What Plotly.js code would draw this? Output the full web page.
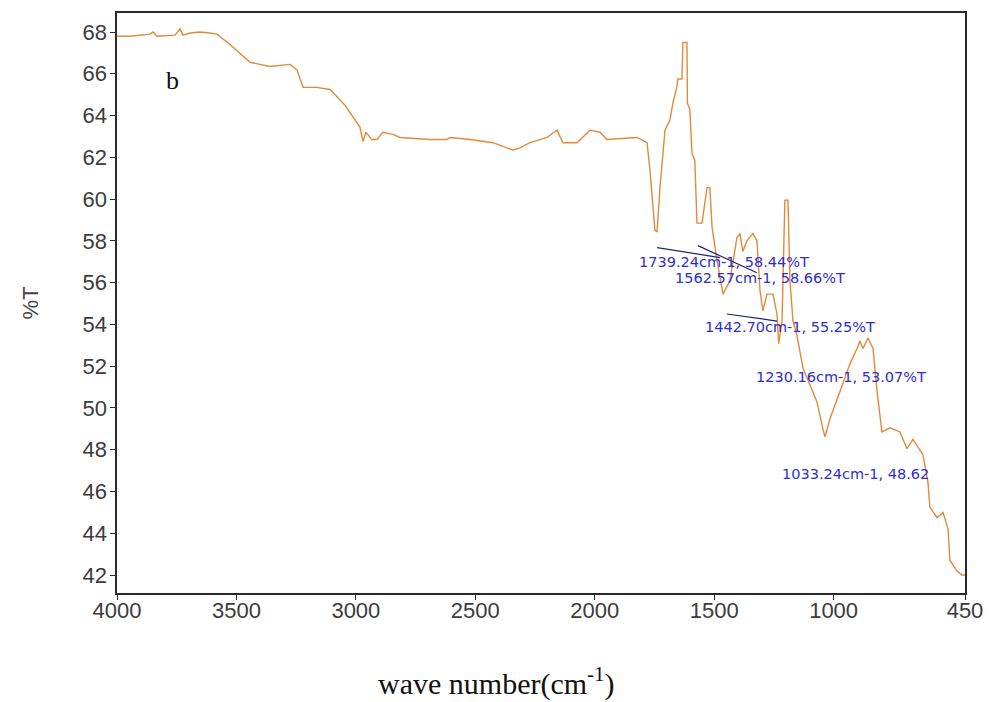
<!DOCTYPE html>
<html>
<head>
<meta charset="utf-8">
<script src="https://cdn.plot.ly/plotly-3.0.1.min.js"></script>
<style>html,body{margin:0;padding:0;background:#fff;}#chart{width:989px;height:702px;}</style>
</head>
<body>
<div id="chart"></div>
<script>
// Wavenumber (cm-1) and transmittance (%T)
const wavenumber = [4000,3946,3862,3849,3833,3757,3736,3724,3694,3653,3611,3581,3527,3443,3360,3276,3247,3221,3163,3108,3046,2983,2970,2958,2933,2912,2887,2845,2815,2690,2619,2606,2522,2426,2342,2313,2271,2200,2158,2133,2074,2020,1978,1949,1823,1781,1769,1756,1748,1739,1727,1706,1685,1673,1656,1652,1635,1631,1614,1612,1602,1593,1581,1572,1551,1530,1518,1509,1488,1463,1434,1405,1392,1380,1363,1338,1321,1308,1296,1279,1254,1237,1230,1216,1204,1191,1183,1170,1154,1128,1070,1045,1036,1028,1015,973,932,902,890,877,856,835,819,798,764,722,693,668,626,605,597,567,542,521,513,484,463,450];
const transmittance = [67.8,67.8,67.9,68.0,67.8,67.85,68.15,67.85,67.95,68.0,67.95,67.9,67.4,66.55,66.35,66.45,66.2,65.35,65.35,65.25,64.5,63.45,62.75,63.2,62.85,62.85,63.2,63.1,62.95,62.85,62.85,62.95,62.85,62.7,62.35,62.45,62.7,62.95,63.3,62.7,62.7,63.3,63.2,62.85,62.95,62.7,61.4,59.3,58.5,58.44,60.55,63.3,63.8,64.6,65.4,65.75,65.75,67.5,67.5,64.6,64.3,62.2,61.85,58.85,58.85,60.55,60.55,58.66,57.05,55.45,56.1,58.15,58.35,57.5,58.0,58.35,58.0,55.6,54.65,55.45,55.45,54.5,53.07,54.15,59.95,59.95,56.1,54.15,53.5,51.9,50.3,49.0,48.62,48.95,49.5,50.8,52.1,52.85,53.2,52.85,53.35,52.85,50.9,48.85,49.05,48.85,48.05,48.5,47.75,46.45,45.25,44.75,45.0,44.2,42.7,42.2,42.0,42.0];

const xTickVals = [4000,3500,3000,2500,2000,1500,1000,450];
const xTickText = ['4000','3500','3000','2500','2000','1500','1000','450'];
const yTickVals = [42,44,46,48,50,52,54,56,58,60,62,64,66,68];

// Peak labels
const peakLabels = ['1739.24cm-1, 58.44%T','1562.57cm-1, 58.66%T','1442.70cm-1, 55.25%T','1230.16cm-1, 53.07%T','1033.24cm-1, 48.62'];
const peakLabelX = [1459, 1308, 1183, 969, 1225];
const peakLabelY = [56.98, 56.2, 53.89, 51.49, 46.85];
const peakLabelAnchor = ['center','center','center','center','left'];
// leader lines [x0,y0,x1,y1]
const leaders = [[1739,57.68,1476,57.2],[1568,57.77,1321,56.47],[1447,54.5,1237,54.16]];

const labelAnnotations = peakLabels.map((t,i)=>({
  x: peakLabelX[i], y: peakLabelY[i], xref:'x', yref:'y', text:t, showarrow:false,
  xanchor:peakLabelAnchor[i], yanchor:'middle',
  font:{family:'DejaVu Sans, sans-serif', size:14.5, color:'#2e2ecf'}
}));

const shapes = leaders.map(l=>({type:'line', xref:'x', yref:'y', x0:l[0], y0:l[1], x1:l[2], y1:l[3],
  line:{color:'#20207a', width:1.2}}));

const trace = {
  x: wavenumber, y: transmittance, type:'scatter', mode:'lines',
  line:{color:'#e3893a', width:1.4}, hoverinfo:'skip'
};

const axisFont = {family:'Liberation Sans, Arial, sans-serif', size:22, color:'#3c3c3c'};

const layout = {
  width:989, height:702,
  margin:{l:117, r:24, t:13, b:109},
  paper_bgcolor:'#fff', plot_bgcolor:'#fff',
  showlegend:false,
  xaxis:{
    range:[4000,450], tickvals:xTickVals, ticktext:xTickText,
    showgrid:false, zeroline:false, showline:true, mirror:true,
    linecolor:'#2a2a2a', linewidth:1.6, ticks:'outside', ticklen:5, tickcolor:'#2a2a2a',
    tickfont:axisFont, ticklabelstandoff:-8
  },
  yaxis:{
    range:[41.14,68.91], tickvals:yTickVals,
    showgrid:false, zeroline:false, showline:true, mirror:true,
    linecolor:'#2a2a2a', linewidth:1.6, ticks:'outside', ticklen:5, tickcolor:'#2a2a2a',
    tickfont:axisFont, ticklabelstandoff:-1,
    title:{text:'%T', font:{family:'Liberation Sans, Arial, sans-serif', size:22, color:'#444'}, standoff:38}
  },
  shapes: shapes,
  annotations: labelAnnotations.concat([
    {xref:'paper', yref:'paper', x:0.065, y:0.884, text:'b', showarrow:false,
     xanchor:'center', yanchor:'middle', font:{family:'Liberation Serif, Times New Roman, serif', size:26, color:'#111'}},
    {xref:'paper', yref:'paper', x:0.448, y:-0.152, text:'wave number(cm<sup>-1</sup>)', showarrow:false,
     xanchor:'center', yanchor:'middle', font:{family:'Liberation Serif, Times New Roman, serif', size:30, color:'#111'}}
  ])
};

Plotly.newPlot('chart', [trace], layout, {displayModeBar:false, staticPlot:true});
</script>
</body>
</html>
